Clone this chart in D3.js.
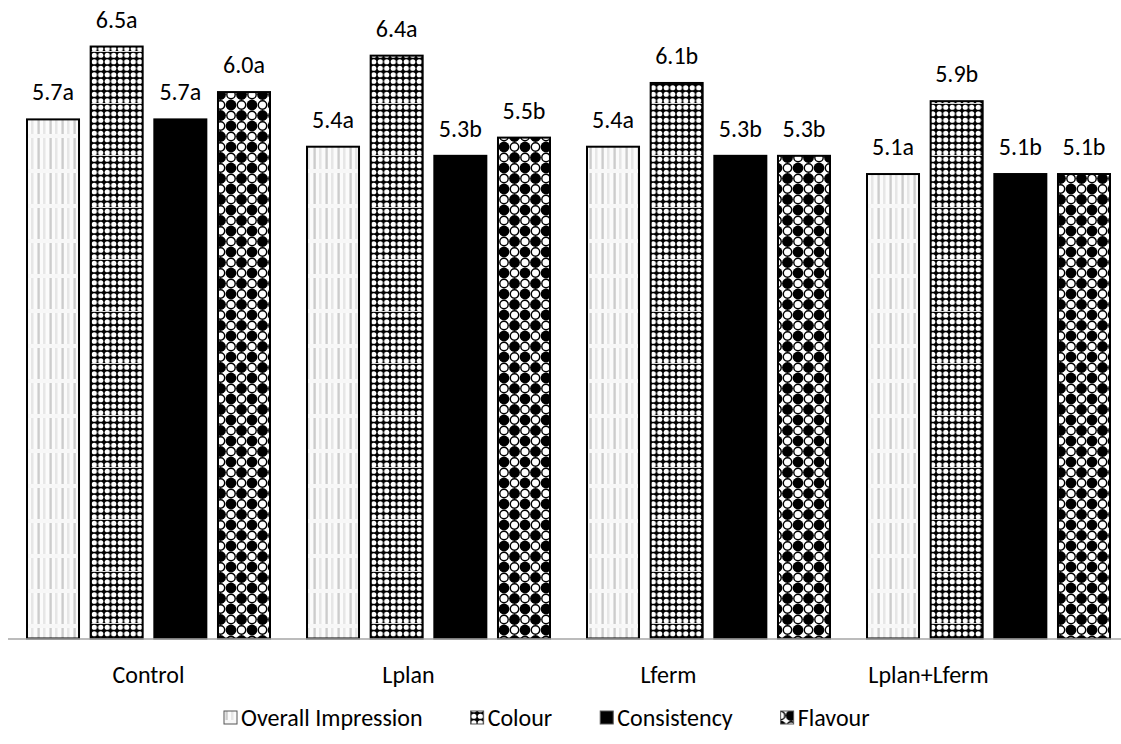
<!DOCTYPE html>
<html>
<head>
<meta charset="utf-8">
<script src="https://cdn.jsdelivr.net/npm/d3@7"></script>
<style>
  html, body { margin: 0; padding: 0; background: #fff; }
  svg { display: block; font-family: Carlito, Calibri, Lato, sans-serif; }
</style>
</head>
<body>
<svg id="chart" width="1121" height="744"></svg>
<script>
// Sensory scores per treatment
const categories = ["Control", "Lplan", "Lferm", "Lplan+Lferm"];
const seriesNames = ["Overall Impression", "Colour", "Consistency", "Flavour"];
const overallImpression = [5.7, 5.4, 5.4, 5.1];
const colour = [6.5, 6.4, 6.1, 5.9];
const consistency = [5.7, 5.3, 5.3, 5.1];
const flavour = [6.0, 5.5, 5.3, 5.1];
const overallLetters = ["a", "a", "a", "a"];
const colourLetters = ["a", "a", "b", "b"];
const consistencyLetters = ["a", "b", "b", "b"];
const flavourLetters = ["a", "b", "b", "b"];

const seriesValues = [overallImpression, colour, consistency, flavour];
const seriesLetters = [overallLetters, colourLetters, consistencyLetters, flavourLetters];

const svg = d3.select("#chart");
const width = 1121, height = 744;
const FONT = 24;
const plot = { left: 8.5, right: 1128.5, top: 1, bottom: 638.5 };

// Fill patterns for each series
const defs = svg.append("defs");

// Overall Impression: pale vertical stripes with a light seam
const pOI = defs.append("pattern").attr("id", "pat-oi")
  .attr("patternUnits", "userSpaceOnUse").attr("width", 12).attr("height", 35);
pOI.append("rect").attr("width", 12).attr("height", 35).attr("fill", "#fbfbfb");
pOI.append("rect").attr("x", 1).attr("y", 0).attr("width", 3).attr("height", 35).attr("fill", "#e0e0e0");
pOI.append("rect").attr("x", 2).attr("y", 0).attr("width", 1.5).attr("height", 35).attr("fill", "#cccccc");
pOI.append("rect").attr("x", 7).attr("y", 0).attr("width", 2.5).attr("height", 35).attr("fill", "#e6e6e6");
pOI.append("rect").attr("x", 0).attr("y", 29).attr("width", 12).attr("height", 4).attr("fill", "#f7f7f7");

// Colour: fine dotted lattice
const cs = 6.5;
const pC = defs.append("pattern").attr("id", "pat-col")
  .attr("patternUnits", "userSpaceOnUse").attr("width", cs).attr("height", cs * 8);
pC.append("rect").attr("width", cs).attr("height", cs * 8).attr("fill", "#000");
for (let r = 0; r < 8; r++) {
  pC.append("circle").attr("cx", cs / 2).attr("cy", r * cs + cs / 2).attr("r", 2.6).attr("fill", "#fff");
}
pC.append("rect").attr("x", 0).attr("y", cs * 8 - 1).attr("width", cs).attr("height", 1).attr("fill", "#d8d8d8");

// Flavour: coarse checker of circles
const fs = 21;
const pF = defs.append("pattern").attr("id", "pat-fla")
  .attr("patternUnits", "userSpaceOnUse").attr("width", fs).attr("height", fs);
pF.append("rect").attr("width", fs).attr("height", fs).attr("fill", "#fff");
[[0, 0], [fs, 0], [0, fs], [fs, fs], [fs / 2, fs / 2]].forEach(([x, y]) => {
  pF.append("circle").attr("cx", x).attr("cy", y).attr("r", 5.4).attr("fill", "#000");
});
[[fs / 2, 0], [fs / 2, fs], [0, fs / 2], [fs, fs / 2]].forEach(([x, y]) => {
  pF.append("circle").attr("cx", x).attr("cy", y).attr("r", 4.2).attr("fill", "#fff").attr("stroke", "#000").attr("stroke-width", 1.4);
});

const fills = ["url(#pat-oi)", "url(#pat-col)", "#000", "url(#pat-fla)"];

// Scales: bar groups, bars within a group, and the category label positions
const x0 = d3.scaleBand().domain(categories).range([plot.left, plot.right]).padding(0);
const x1 = d3.scaleBand().domain(seriesNames).range([18.5, x0.bandwidth() - 18.5])
  .paddingInner(0.183).paddingOuter(0);
const xLabel = d3.scaleBand().domain(categories).range([18.5, 1058.5]).padding(0);
const y = d3.scaleLinear().domain([0, 7]).range([plot.bottom, plot.top]);

// Bars
const rows = [];
categories.forEach((c, ci) => {
  seriesNames.forEach((s, si) => {
    rows.push({ cat: c, series: s, si, value: seriesValues[si][ci], letter: seriesLetters[si][ci] });
  });
});

svg.append("g").selectAll("rect").data(rows).join("rect")
  .attr("x", d => x0(d.cat) + x1(d.series))
  .attr("y", d => y(d.value))
  .attr("width", x1.bandwidth())
  .attr("height", d => y(0) - y(d.value))
  .attr("fill", d => fills[d.si])
  .attr("stroke", "#000")
  .attr("stroke-width", 2);

// Value labels
svg.append("g").selectAll("text").data(rows).join("text")
  .attr("x", d => x0(d.cat) + x1(d.series) + x1.bandwidth() / 2)
  .attr("y", d => y(d.value) - 19)
  .attr("text-anchor", "middle")
  .attr("font-size", FONT)
  .attr("fill", "#000")
  .text(d => d.value.toFixed(1) + d.letter);

// Category axis
const xAxis = svg.append("g").attr("transform", `translate(0,${plot.bottom + 0.5})`)
  .call(d3.axisBottom(xLabel).tickSize(0).tickPadding(27));
xAxis.select(".domain").remove();
xAxis.append("line").attr("x1", 8).attr("x2", width).attr("y1", 0).attr("y2", 0)
  .attr("stroke", "#a6a6a6").attr("stroke-width", 1.5);
xAxis.selectAll(".tick text").attr("font-size", FONT).attr("fill", "#000")
  .attr("font-family", "Carlito, Calibri, Lato, sans-serif");

// Legend
const legend = svg.append("g").attr("transform", "translate(0,726)");
let lx = 224;
seriesNames.forEach((s, si) => {
  const g = legend.append("g").attr("transform", `translate(${lx},0)`);
  g.append("rect").attr("x", 0).attr("y", -15).attr("width", 13).attr("height", 13)
    .attr("fill", fills[si]).attr("stroke", "#555").attr("stroke-width", 1);
  const t = g.append("text").attr("x", 17).attr("y", 0).attr("font-size", FONT).attr("fill", "#000").text(s);
  lx += 17 + t.node().getComputedTextLength() + 48;
});
</script>
</body>
</html>
